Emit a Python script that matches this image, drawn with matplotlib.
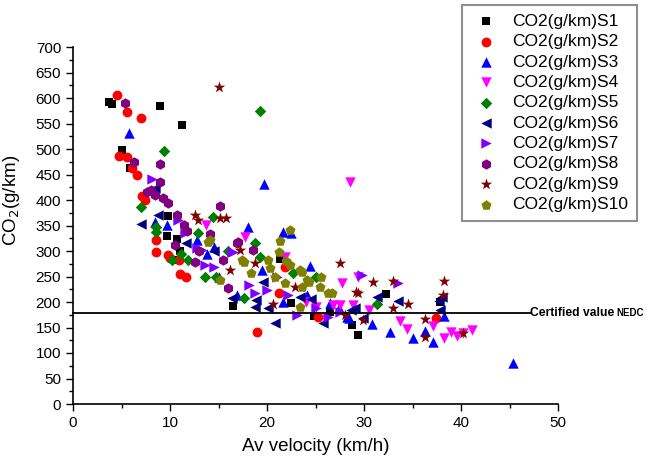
import matplotlib
matplotlib.use('Agg')
import matplotlib.pyplot as plt
from matplotlib.ticker import MultipleLocator

plt.rcParams['font.family'] = ['Liberation Sans', 'DejaVu Sans']

# velocity (km/h) and CO2 (g/km) for each series
s1_v = [3.7, 4.05, 9.0, 11.2, 5.0, 5.9, 9.8, 9.7, 10.7, 10.5, 16.5, 21.3, 24.8, 28.8, 29.4, 32.3, 11.0, 26.5, 37.8, 22.5]
s1_c = [592, 588, 584, 548, 499, 462, 369, 329, 323, 282, 192, 284, 172, 154, 135, 215, 300, 180, 200, 198]

s2_v = [4.5, 5.6, 7.0, 4.7, 5.6, 6.05, 6.6, 7.1, 7.4, 8.6, 8.6, 9.8, 10.0, 10.9, 11.0, 11.7, 19.0, 21.9, 21.2, 25.3, 37.4]
s2_c = [606, 573, 560, 486, 484, 462, 449, 407, 400, 322, 299, 292, 286, 282, 254, 250, 142, 268, 218, 171, 168]

s3_v = [5.8, 8.45, 9.7, 12.75, 13.8, 14.5, 18.0, 19.7, 21.7, 22.5, 24.4, 21.7, 16.9, 24.1, 28.2, 26.5, 27.4, 28.5, 30.8, 32.7, 35.1, 36.3, 37.1, 38.2, 45.4, 19.5, 15.0]
s3_c = [531, 357, 351, 322, 295, 308, 348, 431, 338, 335, 271, 200, 214, 214, 171, 199, 188, 168, 157, 142, 129, 144, 122, 173, 80, 262, 250]

s4_v = [13.7, 17.7, 21.9, 28.6, 27.7, 29.4, 27.5, 25.1, 26.8, 28.9, 33.7, 34.4, 37.1, 38.2, 39.0, 39.6, 41.1, 40.2, 24.0, 30.5]
s4_c = [351, 328, 289, 436, 237, 250, 194, 191, 194, 194, 163, 148, 152, 129, 142, 133, 145, 140, 200, 185]

s5_v = [9.4, 7.0, 14.4, 12.9, 8.6, 8.6, 11.1, 11.9, 13.6, 19.3, 18.8, 19.3, 17.6, 22.7, 31.3, 14.7, 25.0, 10.2, 16.0]
s5_c = [497, 387, 367, 335, 348, 338, 295, 282, 250, 574, 315, 288, 207, 256, 197, 249, 250, 283, 300]

s6_v = [7.0, 8.8, 8.45, 11.7, 16.4, 18.9, 18.8, 20.8, 20.1, 19.6, 23.4, 25.8, 29.1, 31.3, 33.5, 29.9, 37.7, 38.0, 37.8, 28.7, 24.5, 14.5]
s6_c = [353, 371, 423, 316, 207, 204, 191, 159, 188, 240, 209, 158, 188, 210, 201, 168, 201, 210, 184, 184, 205, 300]

s7_v = [8.1, 13.3, 16.5, 13.6, 12.75, 14.5, 16.4, 18.1, 18.8, 20.0, 22.2, 23.1, 25.1, 26.3, 29.8, 33.5, 11.5, 10.8, 27.5, 21.0]
s7_c = [442, 302, 299, 272, 305, 268, 299, 233, 217, 224, 214, 175, 188, 171, 253, 238, 335, 360, 180, 250]

s8_v = [5.4, 6.3, 9.0, 9.0, 7.6, 8.45, 9.3, 9.8, 10.7, 15.2, 11.4, 14.1, 10.5, 15.5, 16.9, 12.6, 17.0, 16.0, 18.6, 11.8, 13.0, 8.0]
s8_c = [591, 475, 471, 436, 416, 410, 403, 394, 371, 388, 351, 333, 312, 282, 315, 279, 318, 227, 302, 340, 300, 420]

s9_v = [15.0, 12.6, 12.9, 15.2, 15.8, 17.2, 16.2, 18.8, 20.6, 22.9, 27.5, 28.0, 29.2, 30.9, 33.0, 29.4, 29.9, 33.0, 34.5, 36.3, 36.3, 38.1, 38.2, 40.2]
s9_c = [622, 371, 361, 364, 364, 302, 263, 276, 196, 229, 277, 175, 220, 240, 242, 218, 165, 188, 196, 166, 132, 214, 242, 140]

s10_v = [14.1, 13.9, 17.6, 15.2, 17.4, 18.4, 22.4, 21.3, 21.2, 20.1, 20.3, 20.8, 21.9, 22.4, 23.4, 24.1, 25.5, 25.6, 26.3, 23.4, 23.6, 23.6, 24.3, 26.7, 22.0]
s10_c = [322, 318, 279, 243, 282, 257, 341, 320, 299, 282, 266, 250, 237, 273, 263, 243, 230, 250, 217, 191, 230, 259, 240, 217, 280]

labels = ['CO2(g/km)S' + str(i) for i in range(1, 11)]
certified = 178

series = [
    (s1_v, s1_c, 's', 'black', 40),
    (s2_v, s2_c, 'o', 'red', 50),
    (s3_v, s3_c, '^', 'blue', 56),
    (s4_v, s4_c, 'v', 'magenta', 56),
    (s5_v, s5_c, 'D', 'green', 34),
    (s6_v, s6_c, '<', 'navy', 56),
    (s7_v, s7_c, '>', '#8000ff', 56),
    (s8_v, s8_c, 'h', 'purple', 56),
    (s9_v, s9_c, '*', 'maroon', 76),
    (s10_v, s10_c, 'p', 'olive', 58),
]

fig = plt.figure(figsize=(6.46, 4.68), dpi=100)
ax = fig.add_axes([73 / 646, 1 - 404 / 468, 485 / 646, 357 / 468])

for (v, c, m, col, sz), lab in zip(series, labels):
    ax.scatter(v, c, marker=m, color=col, s=sz, linewidths=0, label=lab, zorder=3)

# certified value line, runs past the plotted data
ax.plot([0, 47.1], [certified, certified], color='black', lw=1.3, clip_on=False, zorder=4)
ax.text(47.15, certified, 'Certified value', fontsize=8.7, fontweight='bold', va='center', ha='left')
ax.text(56.0, certified, 'NEDC', fontsize=7, fontweight='bold', va='center', ha='left')

ax.set_xlim(0, 50)
ax.set_ylim(0, 700)
ax.xaxis.set_major_locator(MultipleLocator(10))
ax.xaxis.set_minor_locator(MultipleLocator(5))
ax.yaxis.set_major_locator(MultipleLocator(50))
ax.yaxis.set_minor_locator(MultipleLocator(25))
ax.tick_params(which='major', direction='out', length=5, width=1, labelsize=11)
ax.tick_params(which='minor', direction='out', length=3, width=1)
for side in ['top', 'right']:
    ax.spines[side].set_visible(False)
for side in ['left', 'bottom']:
    ax.spines[side].set_linewidth(1.2)

ax.set_xlabel('Av velocity (km/h)', fontsize=13.5, labelpad=6)
ax.set_ylabel('CO$_2$(g/km)', fontsize=13.5)
ax.yaxis.set_label_coords(-0.105, 0.57)

leg = ax.legend(loc='upper right', bbox_to_anchor=(637 / 646, 1 - 5 / 468), bbox_transform=fig.transFigure,
                fontsize=12.5, frameon=True, fancybox=False, edgecolor='#909090', framealpha=1,
                labelspacing=0.3, handletextpad=0.6, borderpad=0.5, handlelength=1.8, scatterpoints=1,
                borderaxespad=0)
leg.get_frame().set_linewidth(1.5)

fig.savefig('out.png', dpi=100)
